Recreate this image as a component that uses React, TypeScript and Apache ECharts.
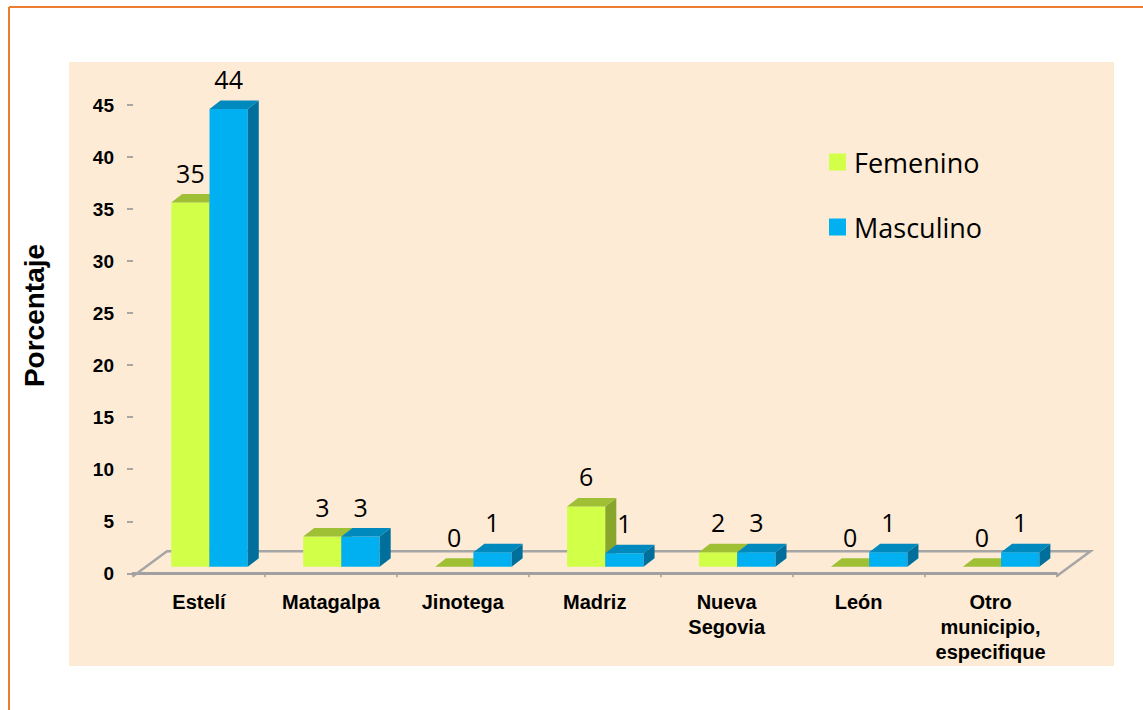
import React, { useEffect, useRef } from "react";
import * as echarts from "echarts";

const categories = [
  "Estelí",
  "Matagalpa",
  "Jinotega",
  "Madriz",
  "Nueva\nSegovia",
  "León",
  "Otro\nmunicipio,\nespecifique",
];
// bar heights as drawn in the picture
const femenino = [35, 2.9, 0, 5.8, 1.4, 0, 0];
const masculino = [44, 2.9, 1.4, 1.3, 1.4, 1.4, 1.4];
// data labels as printed in the picture
const femeninoLabels = ["35", "3", "0", "6", "2", "0", "0"];
const masculinoLabels = ["44", "3", "1", "1", "3", "1", "1"];
const yTicks = { min: 0, max: 45, interval: 5 };

const OFF_X_RATIO = 0.08; // bar row sits a bit behind the front plane
const OFF_Y = -6.5;
const DX = 11; // bar depth
const DY = -8.5;
const FLOOR_DX = 34;
const FLOOR_DY = -25;
const AXIS_OFFSET = 3;

function makeBarRenderer(
  side: number,
  front: string,
  top: string,
  sideColor: string,
  labels: string[]
) {
  return (params: any, api: any) => {
    const idx = api.value(0);
    const v = api.value(1);
    const base = api.coord([idx, 0]);
    const tp = api.coord([idx, v]);
    const bw = api.size([1, 0])[0];
    const barW = bw * 0.29;
    const cx = base[0] + bw * OFF_X_RATIO;
    const xl = side === 0 ? cx - barW : cx;
    const xr = xl + barW;
    const yb = base[1] + OFF_Y;
    const yt = tp[1] + OFF_Y;
    return {
      type: "group",
      children: [
        {
          type: "rect",
          shape: { x: xl, y: yt, width: barW, height: Math.max(0, yb - yt) },
          style: { fill: front },
        },
        {
          type: "polygon",
          shape: {
            points: [
              [xr, yt],
              [xr + DX, yt + DY],
              [xr + DX, yb + DY],
              [xr, yb],
            ],
          },
          style: { fill: sideColor },
        },
        {
          type: "polygon",
          shape: {
            points: [
              [xl, yt],
              [xr, yt],
              [xr + DX, yt + DY],
              [xl + DX, yt + DY],
            ],
          },
          style: { fill: top },
        },
        {
          type: "text",
          x: xl + barW / 2,
          y: yt - 30,
          style: {
            text: labels[params.dataIndex],
            fill: "#000",
            fontSize: 25,
            fontFamily: '"Open Sans", sans-serif',
            align: "center",
            verticalAlign: "middle",
          },
        },
      ],
    };
  };
}

function floorRenderer(params: any, api: any) {
  const c0 = api.coord([0, 0]);
  const w = api.size([1, 0])[0];
  const left = c0[0] - w / 2;
  const right = left + categories.length * w;
  const y = c0[1] + AXIS_OFFSET;
  return {
    type: "polyline",
    shape: {
      points: [
        [left, y],
        [left + FLOOR_DX, y + FLOOR_DY],
        [right + FLOOR_DX, y + FLOOR_DY],
        [right, y],
      ],
    },
    style: { stroke: "#a6a6a6", lineWidth: 2.5, fill: "none" },
  };
}

export default function App() {
  const ref = useRef<HTMLDivElement>(null);
  useEffect(() => {
    const chart = echarts.init(ref.current!, null, { renderer: "svg" });
    const option: any = {
      animation: false,
      backgroundColor: "#ffffff",
      graphic: [
        {
          type: "rect",
          z: -10,
          shape: { x: 69, y: 62, width: 1045, height: 604 },
          style: { fill: "#fdebd5" },
        },
        {
          type: "line",
          shape: { x1: 9, y1: 7, x2: 1143, y2: 7 },
          style: { stroke: "#ed7d31", lineWidth: 2 },
        },
        {
          type: "line",
          shape: { x1: 9, y1: 7, x2: 9, y2: 710 },
          style: { stroke: "#ed7d31", lineWidth: 2 },
        },
        {
          type: "text",
          x: 34,
          y: 315.5,
          rotation: Math.PI / 2,
          style: {
            text: "Porcentaje",
            fill: "#000",
            fontSize: 28,
            fontWeight: "bold",
            fontFamily: '"Liberation Sans", Arial, sans-serif',
            align: "center",
            verticalAlign: "middle",
          },
        },
      ],
      legend: {
        data: ["Femenino", "Masculino"],
        orient: "vertical",
        left: 829,
        top: 147,
        padding: 0,
        icon: "rect",
        itemWidth: 17,
        itemHeight: 17,
        itemGap: 35,
        textStyle: {
          fontSize: 27,
          lineHeight: 30,
          color: "#000",
          fontFamily: '"Open Sans", sans-serif',
          padding: [0, 0, 0, 3],
        },
      },
      grid: { left: 133, right: 86.5, top: 105, bottom: 136.7, containLabel: false },
      xAxis: {
        type: "category",
        data: categories,
        offset: AXIS_OFFSET,
        axisLine: { show: true, lineStyle: { color: "#a0a0a0", width: 3 } },
        axisTick: { show: true, length: 4, lineStyle: { color: "#a0a0a0", width: 1.5 } },
        axisLabel: {
          interval: 0,
          margin: 13,
          fontSize: 20,
          fontWeight: "bold",
          lineHeight: 25,
          color: "#000",
          fontFamily: '"Liberation Sans", Arial, sans-serif',
        },
        splitLine: { show: false },
      },
      yAxis: {
        type: "value",
        min: yTicks.min,
        max: yTicks.max,
        interval: yTicks.interval,
        axisLine: {
          show: true,
          lineStyle: {
            color: "#8e8e8e",
            width: 3,
            shadowColor: "rgba(0,0,0,0.25)",
            shadowOffsetX: 1.5,
          },
        },
        axisTick: { show: true, length: 6, lineStyle: { color: "#8e8e8e", width: 1.5 } },
        axisLabel: {
          margin: 19,
          fontSize: 19,
          fontWeight: "bold",
          color: "#000",
          fontFamily: '"Liberation Sans", Arial, sans-serif',
        },
        splitLine: { show: false },
      },
      series: [
        {
          name: "floor",
          type: "custom",
          renderItem: floorRenderer,
          data: [[0, 0]],
          silent: true,
        },
        {
          name: "Femenino",
          type: "custom",
          itemStyle: { color: "#d2ff48" },
          renderItem: makeBarRenderer(0, "#d2ff48", "#9fbf35", "#88a52c", femeninoLabels),
          data: femenino.map((v, i) => [i, v]),
          encode: { x: 0, y: 1 },
        },
        {
          name: "Masculino",
          type: "custom",
          itemStyle: { color: "#00b0f0" },
          renderItem: makeBarRenderer(1, "#00b0f0", "#0089bd", "#006f9b", masculinoLabels),
          data: masculino.map((v, i) => [i, v]),
          encode: { x: 0, y: 1 },
        },
      ],
    };
    chart.setOption(option);
    return () => chart.dispose();
  }, []);
  return (
    <div
      ref={ref}
      style={{ position: "fixed", left: 0, top: 0, width: 1143, height: 710 }}
    />
  );
}
